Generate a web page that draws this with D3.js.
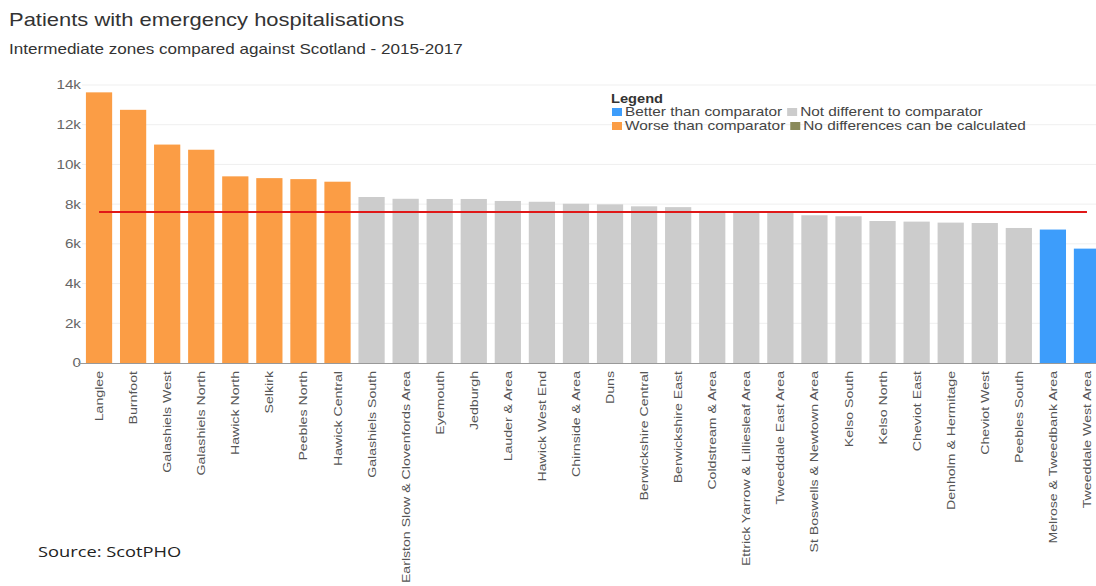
<!DOCTYPE html>
<html>
<head>
<meta charset="utf-8">
<script src="https://cdn.jsdelivr.net/npm/d3@7"></script>
<style>
  body { margin: 0; background: #fff; }
  svg { display: block; font-family: 'Liberation Sans', Arial, sans-serif; }
</style>
</head>
<body>
<div id="chart"></div>
<script>
const areas = ['Langlee', 'Burnfoot', 'Galashiels West', 'Galashiels North', 'Hawick North', 'Selkirk', 'Peebles North',
  'Hawick Central', 'Galashiels South', 'Earlston Slow & Clovenfords Area', 'Eyemouth', 'Jedburgh', 'Lauder & Area',
  'Hawick West End', 'Chirnside & Area', 'Duns', 'Berwickshire Central', 'Berwickshire East', 'Coldstream & Area',
  'Ettrick Yarrow & Lilliesleaf Area', 'Tweeddale East Area', 'St Boswells & Newtown Area', 'Kelso South', 'Kelso North',
  'Cheviot East', 'Denholm & Hermitage', 'Cheviot West', 'Peebles South', 'Melrose & Tweedbank Area', 'Tweeddale West Area'];
const values = [13630, 12750, 11000, 10740, 9400, 9310, 9260, 9130, 8360, 8270, 8260, 8260, 8160, 8120, 8020, 7990,
  7890, 7850, 7660, 7620, 7580, 7440, 7390, 7150, 7120, 7070, 7050, 6800, 6720, 5760];
const status = ['worse', 'worse', 'worse', 'worse', 'worse', 'worse', 'worse', 'worse',
  'same', 'same', 'same', 'same', 'same', 'same', 'same', 'same', 'same', 'same', 'same', 'same',
  'same', 'same', 'same', 'same', 'same', 'same', 'same', 'same', 'better', 'better'];
const scotland = 7600;
const yTicks = [0, 2000, 4000, 6000, 8000, 10000, 12000, 14000];

const legendKeys = ['better', 'same', 'worse', 'none'];
const legendLabels = ['Better than comparator', 'Not different to comparator', 'Worse than comparator', 'No differences can be calculated'];

const colors = { worse: '#fb9d45', same: '#cccccc', better: '#3d9dfb', none: '#8a8a5a' };

const width = 1096;
const height = 586;
const stretch = 1.22; // source picture is widened horizontally

const svg = d3.select('#chart').append('svg').attr('width', width).attr('height', height);

const x = d3.scaleBand().domain(areas).range([82, 1104]).paddingInner(0.23).paddingOuter(0.115);
const y = d3.scaleLinear().domain([0, 14000]).range([363, 85]);

// title
svg.append('text')
  .attr('transform', `translate(9,26) scale(${stretch},1)`)
  .attr('font-size', 18).attr('fill', '#333')
  .text('Patients with emergency hospitalisations');
svg.append('text')
  .attr('transform', `translate(9,54) scale(${stretch},1)`)
  .attr('font-size', 14).attr('fill', '#333')
  .text('Intermediate zones compared against Scotland - 2015-2017');

// grid
svg.append('g')
  .selectAll('line')
  .data(yTicks.slice(1))
  .join('line')
  .attr('x1', 82).attr('x2', width)
  .attr('y1', (d) => y(d)).attr('y2', (d) => y(d))
  .attr('stroke', '#efefef');

// y labels
svg.append('g')
  .selectAll('text')
  .data(yTicks)
  .join('text')
  .attr('transform', (d) => `translate(81,${y(d)}) scale(${stretch},1)`)
  .attr('dy', '0.35em')
  .attr('text-anchor', 'end')
  .attr('font-size', 12.5)
  .attr('fill', '#666')
  .text((d) => (d === 0 ? '0' : d3.format('~s')(d)));

// bars
svg.append('g')
  .selectAll('rect')
  .data(areas)
  .join('rect')
  .attr('x', (d) => x(d))
  .attr('width', x.bandwidth())
  .attr('y', (d, i) => y(values[i]))
  .attr('height', (d, i) => y(0) - y(values[i]))
  .attr('fill', (d, i) => colors[status[i]]);

// baseline
svg.append('line')
  .attr('x1', 78).attr('x2', width)
  .attr('y1', y(0) + 0.5).attr('y2', y(0) + 0.5)
  .attr('stroke', '#999');

// comparator line
svg.append('line')
  .attr('x1', x(areas[0]) + x.bandwidth() / 2)
  .attr('x2', x(areas[areas.length - 1]) + x.bandwidth() / 2)
  .attr('y1', y(scotland)).attr('y2', y(scotland))
  .attr('stroke', '#e01818')
  .attr('stroke-width', 2);

// x labels
svg.append('g')
  .selectAll('text')
  .data(areas)
  .join('text')
  .attr('transform', (d) => `translate(${x(d) + x.bandwidth() / 2},371) rotate(-90) scale(${stretch},1)`)
  .attr('dy', '0.35em')
  .attr('text-anchor', 'end')
  .attr('font-size', 11.6)
  .attr('fill', '#555')
  .text((d) => d);

// legend
const legend = svg.append('g').attr('transform', `translate(610,0)`);
legend.append('text')
  .attr('transform', `translate(1,103) scale(${stretch},1)`)
  .attr('font-size', 12).attr('font-weight', 'bold').attr('fill', '#333')
  .text('Legend');

let lx = [0, 0];
legendKeys.forEach((key, i) => {
  const row = i < 2 ? 0 : 1;
  const ly = row === 0 ? 116 : 130;
  legend.append('rect')
    .attr('x', lx[row] + 2).attr('y', ly - 8)
    .attr('width', 10).attr('height', 8)
    .attr('fill', colors[key]);
  const t = legend.append('text')
    .attr('transform', `translate(${lx[row] + 15},${ly}) scale(${stretch},1)`)
    .attr('font-size', 12.6).attr('fill', '#444')
    .text(legendLabels[i]);
  lx[row] += 15 + t.node().getComputedTextLength() * stretch + 3;
});

// source note
svg.append('text')
  .attr('transform', `translate(38,557) scale(${stretch},1)`)
  .attr('font-family', "'Open Sans', sans-serif")
  .attr('font-size', 15).attr('fill', '#222')
  .text('Source: ScotPHO');
</script>
</body>
</html>
